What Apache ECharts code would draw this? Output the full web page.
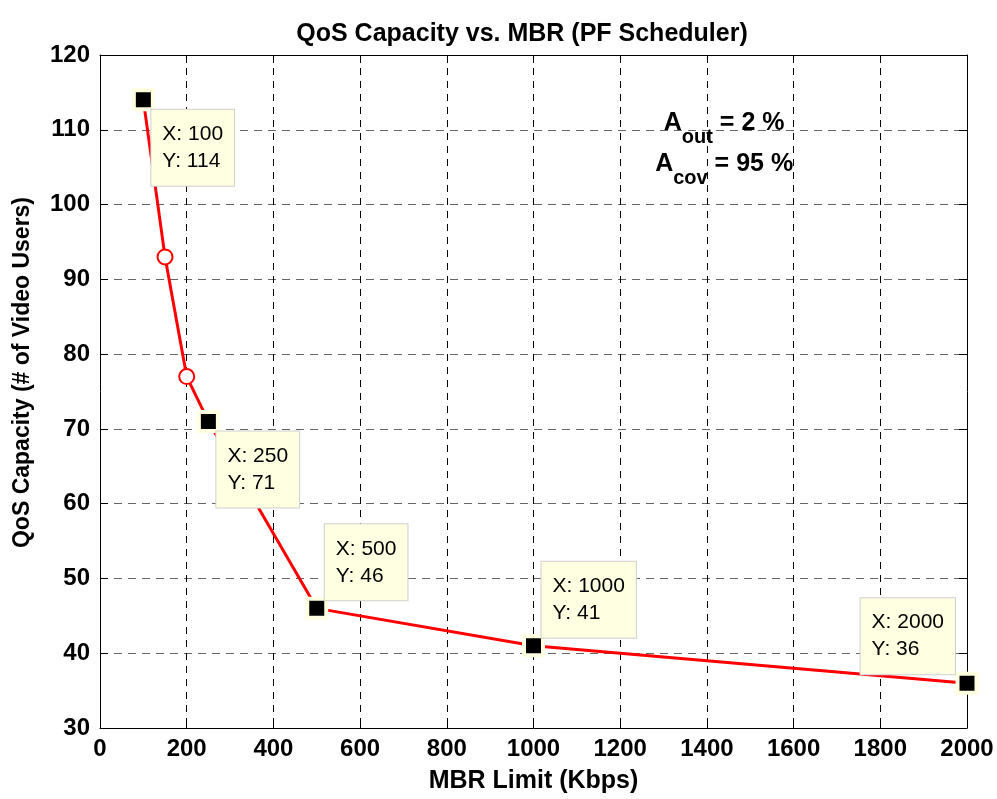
<!DOCTYPE html>
<html><head><meta charset="utf-8">
<script src="https://cdn.jsdelivr.net/npm/echarts@6/dist/echarts.min.js"></script>
<style>html,body{margin:0;padding:0;background:#fff}#c{width:997px;height:799px}</style>
</head><body><div id="c"></div>
<script>
// ---- data ----
const mbrLimit = [100, 150, 200, 250, 500, 1000, 2000];
const qosCapacity = [114, 93, 77, 71, 46, 41, 36];
const tipMbr = [100, 250, 500, 1000, 2000];
const tipCapacity = [114, 71, 46, 41, 36];
const xTicks = [0, 200, 400, 600, 800, 1000, 1200, 1400, 1600, 1800, 2000];
const yTicks = [30, 40, 50, 60, 70, 80, 90, 100, 110, 120];
const titleText = 'QoS Capacity vs. MBR (PF Scheduler)';
const xName = 'MBR Limit (Kbps)';
const yName = 'QoS Capacity (# of Video Users)';

// ---- layout / style ----
const FONT = "'Liberation Sans', Arial, Helvetica, sans-serif";
const tipSide = ['br', 'br', 'tr', 'tr', 'tl'];
function tipLabel(side) {
  if (side === 'br') return { position: [19.5, 21.5], align: 'left', verticalAlign: 'top' };
  if (side === 'tr') return { position: [19.5, 3.5], align: 'left', verticalAlign: 'bottom' };
  return { position: [-0.5, 2.5], align: 'right', verticalAlign: 'bottom' };
}
const xStep = xTicks[1] - xTicks[0];
const yStep = yTicks[1] - yTicks[0];

const chart = echarts.init(document.getElementById('c'), null, { renderer: 'canvas' });

const baseX = {
  type: 'value', min: xTicks[0], max: xTicks[xTicks.length - 1], interval: xStep,
  axisLine: { show: true, onZero: false, lineStyle: { color: '#000', width: 1 } },
  axisTick: { show: true, inside: true, length: 8, lineStyle: { color: '#000' } }
};
const baseY = {
  type: 'value', min: yTicks[0], max: yTicks[yTicks.length - 1], interval: yStep,
  axisLine: { show: true, onZero: false, lineStyle: { color: '#000', width: 1 } },
  axisTick: { show: true, inside: true, length: 8, lineStyle: { color: '#000' } }
};

const tipTextStyle = { fontFamily: FONT, fontSize: 21, lineHeight: 27, color: '#000', align: 'left' };

const option = {
  animation: false,
  backgroundColor: '#fff',
  title: {
    text: titleText, left: 517, top: 17, textAlign: 'center',
    textStyle: { fontFamily: FONT, fontSize: 25, fontWeight: 'bold', color: '#000' }
  },
  grid: { left: 100, top: 55, right: 30, bottom: 69, containLabel: false },
  xAxis: [
    Object.assign({}, baseX, {
      position: 'bottom',
      name: xName, nameLocation: 'middle', nameGap: 41,
      nameTextStyle: { fontFamily: FONT, fontSize: 25, fontWeight: 'bold', color: '#000' },
      axisLabel: { show: true, margin: 9, fontFamily: FONT, fontSize: 24, fontWeight: 'bold', color: '#000',
        formatter: (v) => String(v) },
      splitLine: { show: true, lineStyle: { color: '#000', width: 1, type: [7, 6] } }
    }),
    Object.assign({}, baseX, {
      position: 'top', axisLabel: { show: false }, splitLine: { show: false }
    })
  ],
  yAxis: [
    Object.assign({}, baseY, {
      position: 'left',
      name: yName, nameLocation: 'middle', nameGap: 66, nameRotate: 90,
      nameTextStyle: { fontFamily: FONT, fontSize: 23, fontWeight: 'bold', color: '#000', padding: [0, 0, 0, 38] },
      axisLabel: { show: true, margin: 10, fontFamily: FONT, fontSize: 24, fontWeight: 'bold', color: '#000',
        formatter: (v) => String(v) },
      splitLine: { show: true, lineStyle: { color: '#666', width: 1, type: [8, 6] } }
    }),
    Object.assign({}, baseY, {
      position: 'right', axisLabel: { show: false }, splitLine: { show: false }
    })
  ],
  series: [
    {
      type: 'line',
      xAxisIndex: 0, yAxisIndex: 0,
      data: mbrLimit.map((x, i) => [x, qosCapacity[i]]),
      symbol: 'emptyCircle', symbolSize: 15, showAllSymbol: true,
      lineStyle: { color: '#ff0000', width: 3 },
      itemStyle: { color: '#ff0000', borderColor: '#ff0000', borderWidth: 3, opacity: 1 },
      emphasis: { disabled: true },
      z: 2
    },
    {
      type: 'scatter',
      xAxisIndex: 0, yAxisIndex: 0,
      symbol: 'rect', symbolSize: 19,
      itemStyle: { color: '#000', borderColor: '#ffffe1', borderWidth: 4, opacity: 1 },
      emphasis: { disabled: true },
      label: {
        show: true,
        formatter: (p) => '{t|X: ' + p.value[0] + '}\n{t|Y: ' + p.value[1] + '}',
        fontFamily: FONT, fontSize: 21, lineHeight: 27, color: '#000', opacity: 1,
        backgroundColor: '#ffffe1', borderColor: '#cfcfcf', borderWidth: 1,
        padding: [11, 11, 11, 11],
        rich: { t: tipTextStyle }
      },
      data: tipMbr.map((x, i) => ({ value: [x, tipCapacity[i]], label: tipLabel(tipSide[i]) })),
      z: 5
    }
  ],
  graphic: [
    {
      type: 'text', z: 10,
      style: {
        x: 724, y: 111, align: 'center', verticalAlign: 'top',
        text: '{g| }{a|A}{s|out}{a| = 2 %}\n{g| }{a|A}{s|cov}{a| = 95 %}',
        font: 'bold 25px ' + FONT,
        fill: '#000',
        rich: {
          g: { fontSize: 1, lineHeight: 41, verticalAlign: 'top' },
          a: { fontFamily: FONT, fontSize: 25, fontWeight: 'bold', lineHeight: 30, verticalAlign: 'top', fill: '#000' },
          s: { fontFamily: FONT, fontSize: 20, fontWeight: 'bold', lineHeight: 20, padding: [16, 0, 0, 0], verticalAlign: 'top', fill: '#000' }
        }
      }
    }
  ]
};
chart.setOption(option);
</script>
</body></html>
